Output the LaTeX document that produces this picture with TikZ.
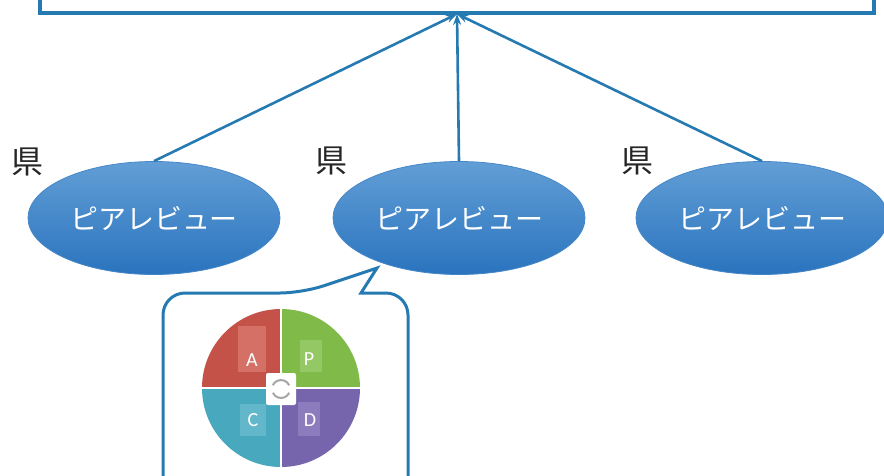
\documentclass[tikz,border=0pt]{standalone}
\usepackage{fontspec}
\newfontfamily\jp{Noto Sans CJK JP}
\newfontfamily\lat{Carlito}
\usetikzlibrary{arrows.meta,shapes.geometric}
\definecolor{lineblue}{RGB}{38,122,178}
\definecolor{ellTop}{RGB}{98,158,214}
\definecolor{ellBot}{RGB}{42,116,190}
\definecolor{ellEdge}{RGB}{70,135,200}
\definecolor{qA}{RGB}{196,82,72}
\definecolor{qAl}{RGB}{212,112,102}
\definecolor{qP}{RGB}{128,186,72}
\definecolor{qPl}{RGB}{148,200,100}
\definecolor{qC}{RGB}{72,168,190}
\definecolor{qCl}{RGB}{98,184,202}
\definecolor{qD}{RGB}{118,100,172}
\definecolor{qDl}{RGB}{140,124,190}
\tikzset{
  review/.style={ellipse, minimum width=252pt, minimum height=113pt, inner sep=0pt,
    top color=ellTop, bottom color=ellBot, draw=ellEdge, line width=0.8pt,
    text=white, font=\jp\fontsize{28}{32}\selectfont},
  kanji/.style={font=\jp\fontsize{32}{36}\selectfont, text=black!85, inner sep=0pt},
  conn/.style={draw=lineblue, line width=2.6pt, -{Stealth[length=11pt,width=8pt]}},
  frame/.style={draw=lineblue, line width=3.4pt},
  callout/.style={draw=lineblue, line width=3pt, fill=white},
  qlabel/.style={font=\lat\fontsize{20}{24}\selectfont, text=white, inner sep=0pt},
  emblem/.style={fill=white, rounded corners=2pt, minimum width=30pt, minimum height=32pt, inner sep=0pt},
  cyc/.style={draw=black!35, line width=2pt}
}
\begin{document}
\begin{tikzpicture}[x=1pt,y=-1pt]
\useasboundingbox (0,0) rectangle (884,475);
\clip (0,0) rectangle (884,475);

% top box, mostly above the page
\draw[frame] (40,-30) rectangle (874,13);
\coordinate (hub) at (457,14);

% the three review bodies
\node[review] (L) at (154,218) {ピアレビュー};
\node[review] (M) at (459,218) {ピアレビュー};
\node[review] (R) at (762,218) {ピアレビュー};

\node[kanji] (kL) at (28,162) {県};
\node[kanji] (kM) at (331,161) {県};
\node[kanji] (kR) at (637,161) {県};

\draw[conn] (L.north) -- (hub);
\draw[conn] (M.north) -- (hub);
\draw[conn] (R.north) -- (hub);

% speech balloon
\draw[callout] (361,293) [rounded corners=22pt] -- (408,293) -- (408,520) -- (163,520) -- (163,293) -- (302,293)
  [sharp corners] -- (377,268) -- cycle;

% PDCA wheel
\coordinate (pd) at (281,388);
\begin{scope}
  \clip (pd) circle[radius=79pt];
  \fill[qA] (pd) rectangle ++(-90,-90);
  \fill[qP] (pd) rectangle ++(90,-90);
  \fill[qC] (pd) rectangle ++(-90,90);
  \fill[qD] (pd) rectangle ++(90,90);
  \fill[qAl] (238,326) rectangle (266,372);
  \fill[qPl] (300,340) rectangle (322,372);
  \fill[qCl] (240,404) rectangle (266,436);
  \fill[qDl] (298,402) rectangle (320,436);
  \draw[white, line width=2.5pt] ([xshift=-90pt]pd) -- ([xshift=90pt]pd);
  \draw[white, line width=2.5pt] ([yshift=-90pt]pd) -- ([yshift=90pt]pd);
\end{scope}
\node[emblem] (cy) at (281,389) {};
\draw[cyc] ([shift={(25:9pt)}]cy.center) arc[start angle=25, end angle=155, radius=9pt];
\draw[cyc] ([shift={(205:9pt)}]cy.center) arc[start angle=205, end angle=335, radius=9pt];

\node[qlabel] (A) at (252,360) {A};
\node[qlabel] (P) at (309,359) {P};
\node[qlabel] (C) at (253,420) {C};
\node[qlabel] (D) at (310,420) {D};
\end{tikzpicture}
\end{document}
